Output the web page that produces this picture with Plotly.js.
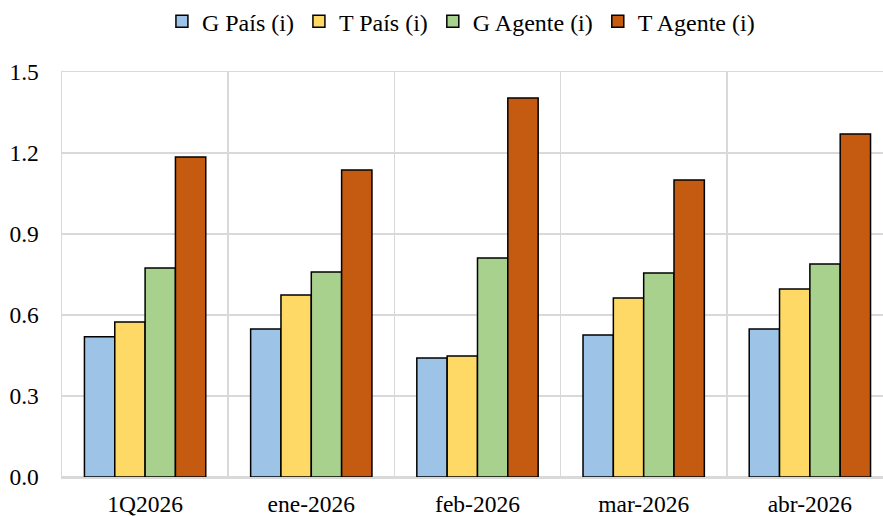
<!DOCTYPE html>
<html>
<head>
<meta charset="utf-8">
<script src="https://cdn.plot.ly/plotly-3.0.1.min.js"></script>
<style>html,body{margin:0;padding:0;background:#fff;}#chart{width:883px;height:516px;}</style>
</head>
<body>
<div id="chart"></div>
<script>
const categories = ["1Q2026", "ene-2026", "feb-2026", "mar-2026", "abr-2026"];
const seriesNames = ["G País (i)", "T País (i)", "G Agente (i)", "T Agente (i)"];
const gPais = [0.519, 0.548, 0.441, 0.526, 0.548];
const tPais = [0.574, 0.674, 0.448, 0.663, 0.696];
const gAgente = [0.774, 0.759, 0.811, 0.756, 0.789];
const tAgente = [1.185, 1.137, 1.404, 1.100, 1.270];
const yTicks = [0, 0.3, 0.6, 0.9, 1.2, 1.5];
const yTickLabels = ["0.0", "0.3", "0.6", "0.9", "1.2", "1.5"];

const colors = ["#9DC3E6", "#FFD966", "#A9D18E", "#C55A11"];
const values = [gPais, tPais, gAgente, tAgente];
const font = "Liberation Serif";

const traces = values.map((v, i) => ({
  type: "bar",
  name: seriesNames[i],
  x: categories,
  y: v,
  marker: {color: colors[i], line: {color: "#000000", width: 1.5}},
  hoverinfo: "skip"
}));

const layout = {
  width: 883, height: 516,
  margin: {l: 62, r: 0, t: 72, b: 39},
  paper_bgcolor: "#ffffff", plot_bgcolor: "#ffffff",
  font: {family: font, size: 23.5, color: "#000000"},
  barmode: "group",
  bargap: 0.27,
  bargroupgap: 0,
  showlegend: true,
  legend: {orientation: "h", x: 0.522, xanchor: "center", xref: "container",
           y: 0.958, yanchor: "middle", yref: "container",
           font: {family: font, size: 24}, itemwidth: 20,
           traceorder: "normal", tracegroupgap: 0},
  xaxis: {
    type: "category",
    range: [-0.5, 4.44],
    tickson: "boundaries",
    showgrid: true, gridcolor: "#d9d9d9", gridwidth: 1.5,
    showline: true, mirror: true, linecolor: "#d9d9d9", linewidth: 1.5,
    zeroline: false, ticks: "",
    tickfont: {family: font, size: 23.5},
    ticklabelstandoff: 5
  },
  yaxis: {
    range: [0, 1.5],
    tickvals: yTicks, ticktext: yTickLabels,
    showgrid: true, gridcolor: "#d9d9d9", gridwidth: 1.5,
    zeroline: true, zerolinecolor: "#d9d9d9", zerolinewidth: 1.5,
    showline: true, linecolor: "#d9d9d9", linewidth: 1.5, ticks: "",
    tickfont: {family: font, size: 23.5},
    ticklabelstandoff: 17
  }
};
Plotly.newPlot("chart", traces, layout, {staticPlot: true, displayModeBar: false});
</script>
</body>
</html>
